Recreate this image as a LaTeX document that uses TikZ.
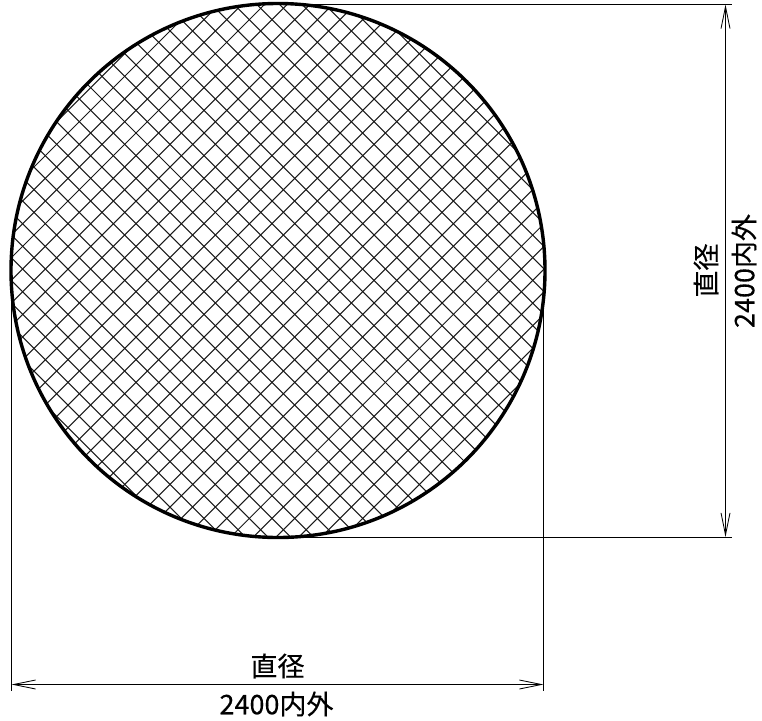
\documentclass[tikz,border=0pt]{standalone}
\usepackage{fontspec}
\newfontfamily\cjk[FakeBold=0.25]{Noto Sans CJK JP}
\usetikzlibrary{arrows.meta}
\tikzset{
  hatchline/.style={line width=1.05pt,draw=black!90},
  outline/.style={line width=3.4pt,draw=black},
  extline/.style={line width=0.85pt,draw=black},
  dimline/.style={line width=0.85pt,draw=black,{Straight Barb[length=22pt,width=9pt,line width=0.85pt]}-{Straight Barb[length=22pt,width=9pt,line width=0.85pt]}},
  dimtext/.style={font=\cjk\fontsize{27}{27}\selectfont,inner sep=0pt,text=black},
}
\begin{document}
\begin{tikzpicture}[x=1pt,y=-1pt]
\useasboundingbox (0,0) rectangle (762,720);
\coordinate (c) at (278,270.5);
\begin{scope}
  \clip (c) circle (267);
  \foreach \k in {-16,...,16}{
    \draw[hatchline] (278+\k*22.67-4.5-300,270.5-300) -- (278+\k*22.67-4.5+300,270.5+300);
    \draw[hatchline] (278+\k*22.67-7.46+300,270.5-300) -- (278+\k*22.67-7.46-300,270.5+300);
  }
\end{scope}
\draw[outline] (c) circle (267);
% extension lines
\coordinate (topA) at (278,4.5);
\coordinate (topB) at (732,4.5);
\coordinate (botA) at (278,537);
\coordinate (botB) at (732,537);
\coordinate (leftA) at (11.5,271);
\coordinate (leftB) at (11.5,691);
\coordinate (rightA) at (543.5,303);
\coordinate (rightB) at (543.5,691);
\draw[extline] (topA) -- (topB);
\draw[extline] (botA) -- (botB);
\draw[extline] (leftA) -- (leftB);
\draw[extline] (rightA) -- (rightB);
% dimension lines
\coordinate (hL) at (11.5,684.5);
\coordinate (hR) at (543.5,684.5);
\coordinate (vT) at (725.5,4.5);
\coordinate (vB) at (725.5,537);
\draw[dimline] (hL) -- (hR);
\draw[dimline] (vT) -- (vB);
% labels
\node[dimtext] (hname) at (277.5,666) {直径};
\node[dimtext] (hval) at (276.5,704) {2400内外};
\node[dimtext,rotate=90] (vname) at (706,270.5) {直径};
\node[dimtext,rotate=90] (vval) at (744,271) {2400内外};
\end{tikzpicture}
\end{document}
